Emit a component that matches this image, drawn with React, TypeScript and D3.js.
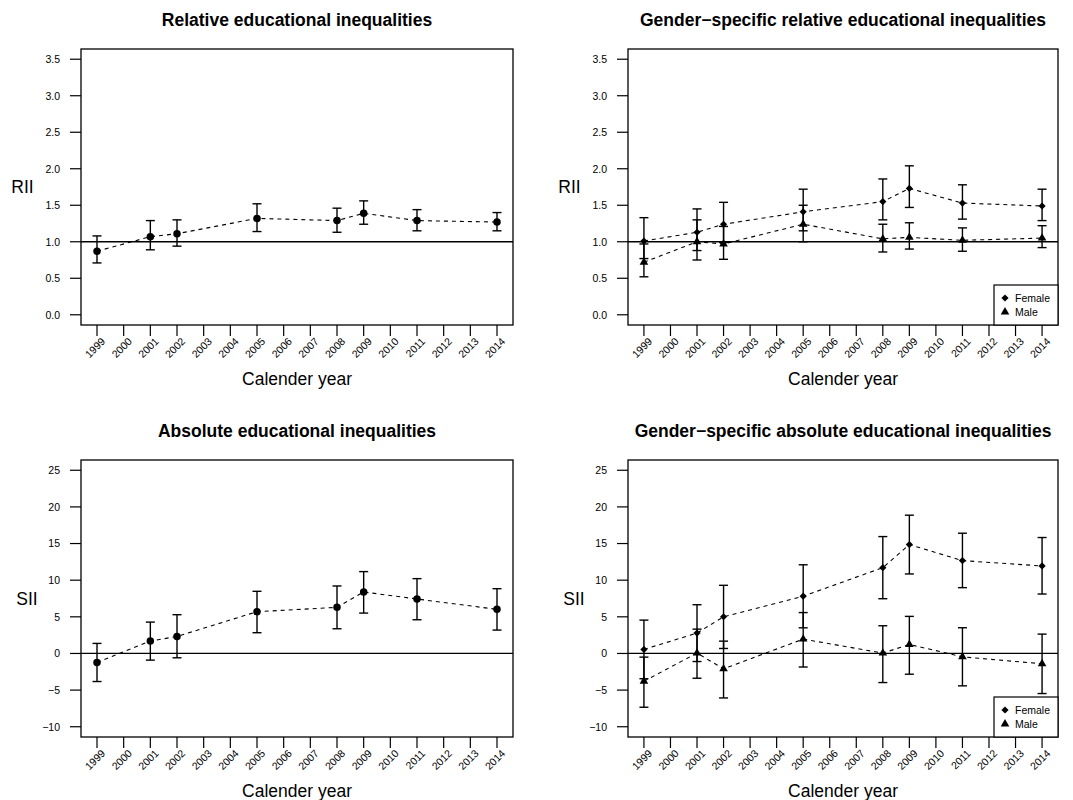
import * as d3 from 'd3';
import React, { useRef, useEffect } from 'react';

// survey years with estimates
const years = [1999, 2001, 2002, 2005, 2008, 2009, 2011, 2014];
const tickYears = [1999, 2000, 2001, 2002, 2003, 2004, 2005, 2006, 2007, 2008, 2009, 2010, 2011, 2012, 2013, 2014];
const riiTicks = [0, 0.5, 1, 1.5, 2, 2.5, 3, 3.5];
const siiTicks = [-10, -5, 0, 5, 10, 15, 20, 25];
const legendLabels = ['Female', 'Male'];

// relative index of inequality, total
const riiTotal = [0.87, 1.07, 1.11, 1.32, 1.29, 1.39, 1.29, 1.27];
const riiTotalLo = [0.71, 0.89, 0.94, 1.14, 1.13, 1.24, 1.15, 1.15];
const riiTotalHi = [1.08, 1.29, 1.30, 1.52, 1.46, 1.56, 1.44, 1.40];

// RII by gender
const riiFemale = [1.01, 1.13, 1.24, 1.41, 1.55, 1.73, 1.53, 1.49];
const riiFemaleLo = [0.77, 0.88, 0.99, 1.15, 1.30, 1.47, 1.31, 1.29];
const riiFemaleHi = [1.33, 1.45, 1.54, 1.72, 1.86, 2.04, 1.78, 1.72];
const riiMale = [0.72, 1.00, 0.97, 1.24, 1.04, 1.06, 1.02, 1.05];
const riiMaleLo = [0.52, 0.75, 0.76, 1.00, 0.86, 0.90, 0.87, 0.92];
const riiMaleHi = [0.97, 1.30, 1.21, 1.50, 1.24, 1.26, 1.19, 1.22];

// slope index of inequality, total
const siiTotal = [-1.23, 1.69, 2.32, 5.70, 6.29, 8.39, 7.43, 6.02];
const siiTotalLo = [-3.83, -0.91, -0.59, 2.83, 3.37, 5.51, 4.60, 3.19];
const siiTotalHi = [1.37, 4.28, 5.29, 8.48, 9.21, 11.17, 10.21, 8.84];

// SII by gender
const siiFemale = [0.55, 2.78, 5.01, 7.81, 11.71, 14.86, 12.67, 11.94];
const siiFemaleLo = [-3.45, -1.10, 0.68, 3.50, 7.47, 10.85, 8.98, 8.11];
const siiFemaleHi = [4.55, 6.65, 9.30, 12.10, 15.95, 18.87, 16.41, 15.82];
const siiMale = [-3.79, 0.05, -2.10, 1.96, 0.05, 1.23, -0.46, -1.41];
const siiMaleLo = [-7.34, -3.38, -6.07, -1.85, -3.97, -2.83, -4.42, -5.47];
const siiMaleHi = [-0.50, 3.32, 1.68, 5.58, 3.78, 5.06, 3.51, 2.64];

const FONT = '"Liberation Sans", Arial, Helvetica, sans-serif';

const makeSeries = (est, lo, hi, shape) =>
  years.map((yr, i) => ({ yr, v: est[i], lo: lo[i], hi: hi[i], shape }));

const panels = [
  {
    title: 'Relative educational inequalities', ylab: 'RII', labOff: 58.5,
    x0: 81, x1: 513, y0: 49, y1: 325, dom: [0, 3.5], ticks: riiTicks, ref: 1, fmt: d3.format('.1f'),
    series: [makeSeries(riiTotal, riiTotalLo, riiTotalHi, 'circle')], legend: false,
  },
  {
    title: 'Gender\u2212specific relative educational inequalities', ylab: 'RII', labOff: 58.5,
    x0: 628, x1: 1058, y0: 49, y1: 325, dom: [0, 3.5], ticks: riiTicks, ref: 1, fmt: d3.format('.1f'),
    series: [makeSeries(riiFemale, riiFemaleLo, riiFemaleHi, 'diamond'), makeSeries(riiMale, riiMaleLo, riiMaleHi, 'triangle')],
    legend: true,
  },
  {
    title: 'Absolute educational inequalities', ylab: 'SII', labOff: 54,
    x0: 81, x1: 513, y0: 460, y1: 737, dom: [-10, 25], ticks: siiTicks, ref: 0, fmt: d3.format('d'),
    series: [makeSeries(siiTotal, siiTotalLo, siiTotalHi, 'circle')], legend: false,
  },
  {
    title: 'Gender\u2212specific absolute educational inequalities', ylab: 'SII', labOff: 54,
    x0: 628, x1: 1058, y0: 460, y1: 737, dom: [-10, 25], ticks: siiTicks, ref: 0, fmt: d3.format('d'),
    series: [makeSeries(siiFemale, siiFemaleLo, siiFemaleHi, 'diamond'), makeSeries(siiMale, siiMaleLo, siiMaleHi, 'triangle')],
    legend: true,
  },
];

const symbolPath = (shape) => {
  if (shape === 'circle') return d3.symbol(d3.symbolCircle, 44)();
  if (shape === 'diamond') return d3.symbol(d3.symbolSquare, 26)();
  return d3.symbol(d3.symbolTriangle, 32)();
};

const drawMarker = (g, shape, x, y) => {
  g.append('path')
    .attr('d', symbolPath(shape))
    .attr('transform', `translate(${x},${y})${shape === 'diamond' ? ' rotate(45)' : ''}`)
    .attr('fill', '#000');
};

const drawPanel = (svg, p) => {
  const g = svg.append('g');
  // R pads the axis range by 4% each side
  const xPad = (tickYears[tickYears.length - 1] - tickYears[0]) * 0.04;
  const x = d3.scaleLinear()
    .domain([tickYears[0] - xPad, tickYears[tickYears.length - 1] + xPad])
    .range([p.x0, p.x1]);
  const yPad = (p.dom[1] - p.dom[0]) * 0.04;
  const y = d3.scaleLinear()
    .domain([p.dom[0] - yPad, p.dom[1] + yPad])
    .range([p.y1, p.y0]);

  const cx = (p.x0 + p.x1) / 2;

  g.append('text')
    .attr('x', cx).attr('y', p.y0 - 23)
    .attr('text-anchor', 'middle')
    .attr('font-family', FONT).attr('font-size', 17.5).attr('font-weight', 'bold')
    .text(p.title);

  g.append('text')
    .attr('x', p.x0 - p.labOff).attr('y', (p.y0 + p.y1) / 2 + 6)
    .attr('text-anchor', 'middle')
    .attr('font-family', FONT).attr('font-size', 17.5)
    .text(p.ylab);

  g.append('text')
    .attr('x', cx).attr('y', p.y1 + 60)
    .attr('text-anchor', 'middle')
    .attr('font-family', FONT).attr('font-size', 17.5)
    .text('Calender year');

  // y ticks
  const yt = g.append('g');
  yt.selectAll('line').data(p.ticks).enter().append('line')
    .attr('x1', p.x0 - 11).attr('x2', p.x0)
    .attr('y1', (d) => y(d)).attr('y2', (d) => y(d))
    .attr('stroke', '#000').attr('stroke-width', 1.2);
  yt.selectAll('text').data(p.ticks).enter().append('text')
    .attr('x', p.x0 - 21).attr('y', (d) => y(d) + 3.8)
    .attr('text-anchor', 'end')
    .attr('font-family', FONT).attr('font-size', 10.5)
    .text((d) => p.fmt(d));

  // x ticks
  const xt = g.append('g');
  xt.selectAll('line').data(tickYears).enter().append('line')
    .attr('x1', (d) => x(d)).attr('x2', (d) => x(d))
    .attr('y1', p.y1).attr('y2', p.y1 + 11)
    .attr('stroke', '#000').attr('stroke-width', 1.2);
  xt.selectAll('text').data(tickYears).enter().append('text')
    .attr('transform', (d) => `translate(${x(d) + 9},${p.y1 + 17}) rotate(-45)`)
    .attr('text-anchor', 'end')
    .attr('font-family', FONT).attr('font-size', 10.5)
    .text((d) => d);

  // reference line
  g.append('line')
    .attr('x1', p.x0).attr('x2', p.x1)
    .attr('y1', y(p.ref)).attr('y2', y(p.ref))
    .attr('stroke', '#000').attr('stroke-width', 1.3);

  const line = d3.line().x((d) => x(d.yr)).y((d) => y(d.v));

  p.series.forEach((s) => {
    g.append('path')
      .attr('d', line(s))
      .attr('fill', 'none')
      .attr('stroke', '#000')
      .attr('stroke-width', 1.1)
      .attr('stroke-dasharray', '4,4');

    const eb = g.append('g');
    s.forEach((d) => {
      const xx = x(d.yr);
      eb.append('line')
        .attr('x1', xx).attr('x2', xx).attr('y1', y(d.lo)).attr('y2', y(d.hi))
        .attr('stroke', '#000').attr('stroke-width', 1.4);
      [d.lo, d.hi].forEach((v) => {
        eb.append('line')
          .attr('x1', xx - 4.5).attr('x2', xx + 4.5).attr('y1', y(v)).attr('y2', y(v))
          .attr('stroke', '#000').attr('stroke-width', 1.4);
      });
      drawMarker(eb, d.shape, xx, y(d.v));
    });
  });

  // plot box
  g.append('rect')
    .attr('x', p.x0).attr('y', p.y0)
    .attr('width', p.x1 - p.x0).attr('height', p.y1 - p.y0)
    .attr('fill', 'none').attr('stroke', '#000').attr('stroke-width', 1.3);

  if (p.legend) {
    const lw = 64;
    const lh = 40;
    const lg = g.append('g').attr('transform', `translate(${p.x1 - lw},${p.y1 - lh})`);
    lg.append('rect')
      .attr('width', lw).attr('height', lh)
      .attr('fill', '#fff').attr('stroke', '#000').attr('stroke-width', 1.2);
    ['diamond', 'triangle'].forEach((shape, i) => {
      drawMarker(lg, shape, 11, 13 + i * 14);
      lg.append('text')
        .attr('x', 21).attr('y', 13 + i * 14 + 3.8)
        .attr('font-family', FONT).attr('font-size', 10.5)
        .text(legendLabels[i]);
    });
  }
};

const App = () => {
  const ref = useRef(null);

  useEffect(() => {
    const svg = d3.select(ref.current);
    svg.selectAll('*').remove();
    svg.append('rect').attr('width', 1073).attr('height', 800).attr('fill', '#fff');
    panels.forEach((p) => drawPanel(svg, p));
  }, []);

  return (
    <svg
      ref={ref}
      width={1073}
      height={800}
      style={{ position: 'absolute', left: 0, top: 0, display: 'block' }}
    />
  );
};

export default App;
